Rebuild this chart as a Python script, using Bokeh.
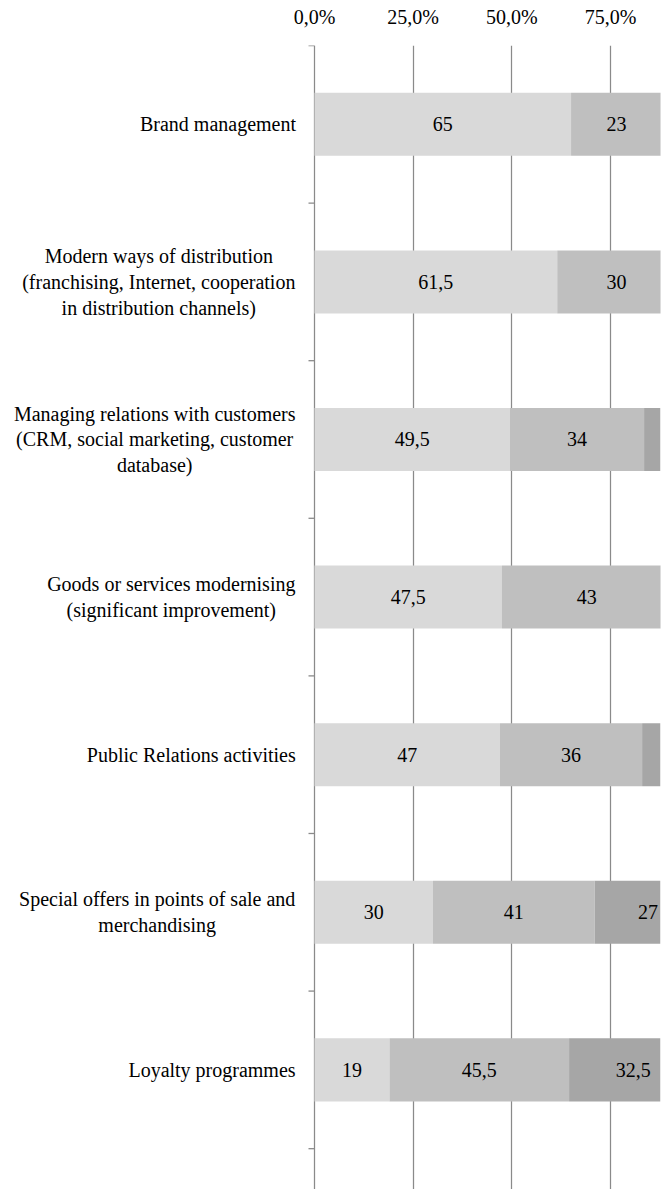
from bokeh.plotting import figure
from bokeh.models import Range1d, FixedTicker
from bokeh.core.properties import value
from bokeh.embed import file_html
from bokeh.resources import INLINE

# ---------------- data ----------------
categories = [
    "Brand management",
    "Modern ways of distribution\n(franchising, Internet, cooperation\nin distribution channels)",
    "Managing relations with customers\n(CRM, social marketing, customer\ndatabase)",
    "Goods or services modernising\n(significant improvement)",
    "Public Relations activities",
    "Special offers in points of sale and\nmerchandising",
    "Loyalty programmes",
]
series_1 = [65, 61.5, 49.5, 47.5, 47, 30, 19]
series_2 = [23, 30, 34, 43, 36, 41, 45.5]
series_3 = [12, 8.5, 16.5, 9.5, 17, 27, 32.5]
tick_values = [0, 25, 50, 75, 100]
tick_labels = ["0,0%", "25,0%", "50,0%", "75,0%", "100,0%"]

# ---------------- layout / style ----------------
FONT = "Liberation Serif"
colors = ["#d9d9d9", "#bfbfbf", "#a6a6a6"]
grid_color = "#8a8a8a"
W, H = 668, 1189
BR, BT = 8, 45
LABEL_PX = 314                  # px reserved left of the 0 % line for category labels
PLOT_PX = W - BR - LABEL_PX     # px of the value area
X_END = 87.66
ppu = PLOT_PX / X_END           # px per percentage point
Y_START, Y_END = -0.259, 7
TICK_LEN = 6
# horizontal centre (px from the left edge) of each category label block
label_center_px = [217.5, 158.3, 154.2, 170.8, 190.8, 156.7, 211.5]

n = len(categories)
ys = [n - 0.5 - i for i in range(n)]
boundaries = list(range(n + 1))

p = figure(width=W, height=H, x_range=Range1d(-LABEL_PX / ppu, X_END),
           y_range=Range1d(Y_START, Y_END),
           output_backend="svg", toolbar_location=None, x_axis_location="above",
           y_axis_type=None,
           min_border_left=0, min_border_right=BR, min_border_top=BT, min_border_bottom=0)
p.outline_line_color = None

xa = p.xaxis[0]
xa.ticker = FixedTicker(ticks=tick_values)
xa.major_label_overrides = {t: l for t, l in zip(tick_values, tick_labels)}
xa.axis_line_color = None
xa.major_tick_line_color = None
xa.minor_tick_line_color = None
xa.major_tick_out = 0
xa.major_label_text_font = FONT
xa.major_label_text_font_size = "20px"
xa.major_label_text_color = "#000000"
xa.major_label_standoff = 18

p.ygrid.visible = False
p.xgrid.ticker = FixedTicker(ticks=tick_values)
p.xgrid.grid_line_color = grid_color
p.xgrid.grid_line_width = 1.25

# category axis ticks (at category boundaries)
p.segment(x0=[-TICK_LEN / ppu] * len(boundaries), x1=[0] * len(boundaries),
          y0=boundaries, y1=boundaries, line_color=grid_color, line_width=1.3)

# category labels
p.text(x=[(c - LABEL_PX) / ppu for c in label_center_px], y=ys, text=categories,
       text_align="center", text_baseline="middle",
       text_font=value(FONT), text_font_size="20px", text_color="#000000",
       text_line_height=1.17)

# stacked bars with value labels
left = [0.0] * n
for vals, col in zip([series_1, series_2, series_3], colors):
    right = [l + v for l, v in zip(left, vals)]
    p.hbar(y=ys, left=left, right=right, height=0.4, fill_color=col, line_color=None)
    mids = [(l + r) / 2 for l, r in zip(left, right)]
    keep = [i for i in range(n) if mids[i] <= X_END - 2]
    txt = [("%g" % vals[i]).replace(".", ",") for i in keep]
    p.text(x=[mids[i] for i in keep], y=[ys[i] for i in keep], text=txt,
           text_align="center", text_baseline="middle",
           text_font=value(FONT), text_font_size="20px", text_color="#000000")
    left = right

open("out.html", "w").write(file_html(p, INLINE))
